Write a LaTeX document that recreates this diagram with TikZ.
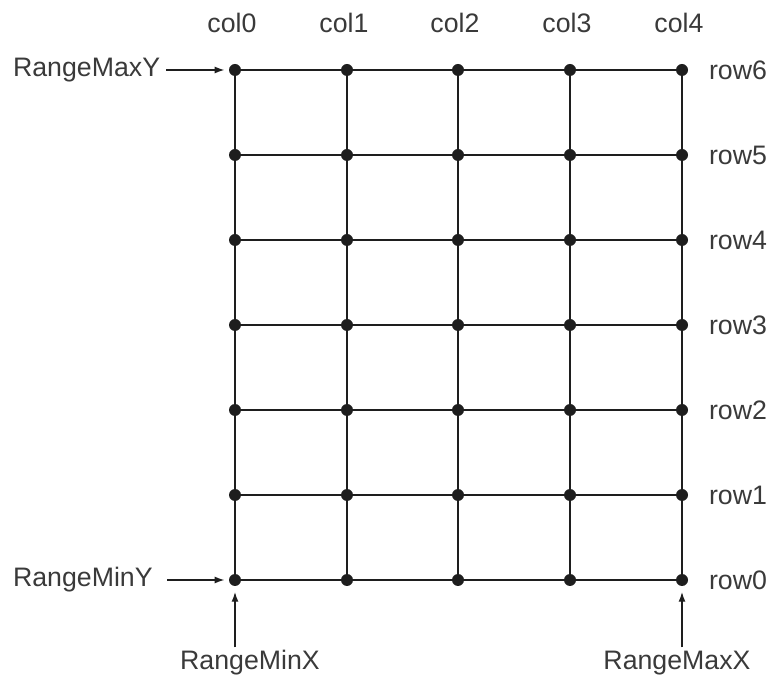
\documentclass[tikz,border=0pt]{standalone}
\usepackage{fontspec}
\setmainfont{Liberation Sans}
\usetikzlibrary{arrows.meta, positioning}
\definecolor{gridInk}{HTML}{1E1E1E}
\definecolor{labelInk}{HTML}{3A3A3A}

\begin{document}
\begin{tikzpicture}[x=0.025cm, y=-0.025cm,
    dot/.style={circle, fill=gridInk, inner sep=0pt, minimum size=12*0.025cm},
    lbl/.style={font=\fontsize{19}{22}\selectfont, text=labelInk, inner sep=2pt},
    gl/.style={line width=1.4pt, color=gridInk},
    fl/.style={-{Latex[length=7pt, width=5pt]}, line width=1pt, color=gridInk}]
    \useasboundingbox (0,0) rectangle (772,682);
    % grid points
    \foreach \i/\x in {0/235, 1/347, 2/458, 3/570, 4/682}
      \foreach \j in {0,...,6}
        \node[dot] (p\i\j) at (\x,{580-85*\j}) {};
    \foreach \i in {0,...,4} \draw[gl] (p\i0.center) -- (p\i6.center);
    \foreach \j in {0,...,6} \draw[gl] (p0\j.center) -- (p4\j.center);
    % column and row labels
    \foreach \i in {0,...,4}
      \node[lbl] (c\i) at ([xshift=-3*0.025cm, yshift=47*0.025cm]p\i6.center) {col\i};
    \foreach \j in {0,...,6}
      \node[lbl, anchor=west] (r\j) at (706,{580-85*\j}) {row\j};
    % range markers
    \node[lbl, anchor=west] (maxy) at (10,70)  {RangeMaxY};
    \node[lbl, anchor=west] (miny) at (10,580) {RangeMinY};
    \node[lbl] (minx) at (250,663) {RangeMinX};
    \node[lbl] (maxx) at (677,663) {RangeMaxX};
    \draw[fl, shorten <=2pt, shorten >=3pt] (maxy) -- (p06);
    \draw[fl, shorten <=8pt, shorten >=3pt] (miny) -- (p00);
    \draw[fl, shorten >=4pt] (minx.north -| p00) -- (p00);
    \draw[fl, shorten >=4pt] (minx.north -| p40) -- (p40);
\end{tikzpicture}
\end{document}
